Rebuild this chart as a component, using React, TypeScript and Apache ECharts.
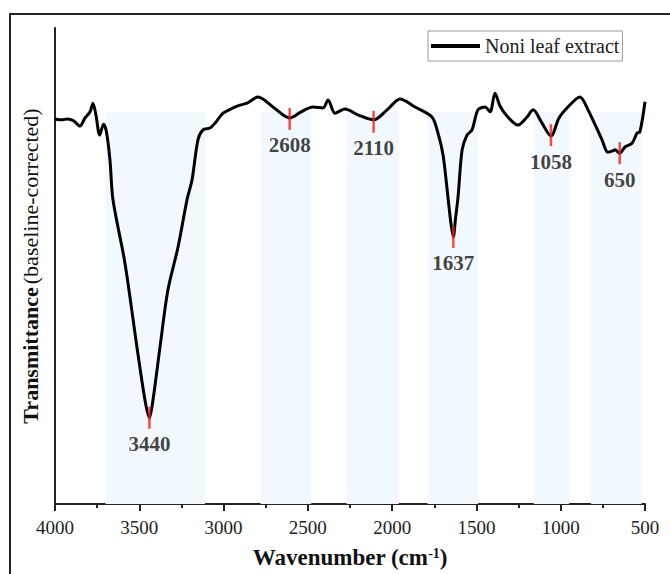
import React, { useEffect, useRef } from "react";
import * as echarts from "echarts";

const wavenumbers = [
  4000, 3960, 3925, 3890, 3852, 3822, 3792, 3775, 3757, 3735, 3712, 3695, 3674, 3656,
  3585, 3514, 3466, 3440, 3419, 3377, 3330, 3270, 3217, 3187, 3152, 3122, 3080, 3051,
  3003, 2944, 2903, 2861, 2796, 2700, 2608, 2540, 2470, 2410, 2380, 2339, 2280, 2200,
  2110, 2030, 1953, 1864, 1764, 1728, 1698, 1669, 1650, 1637, 1625, 1609, 1585, 1556,
  1526, 1491, 1449, 1419, 1390, 1360, 1319, 1253, 1200, 1164, 1111, 1058, 1010, 957,
  886, 838, 755, 720, 690, 678, 650, 619, 577, 547, 530, 500,
];
const transmittance = [
  80.9, 80.7, 80.9, 80.5, 79.4, 81.1, 82.4, 84.2, 81.7, 77.5, 79.8, 78.2, 72.3, 63.9,
  50.6, 33.0, 21.8, 18.1, 21.8, 33.0, 45.0, 54.0, 63.9, 68.1, 76.5, 78.6, 79.0, 80.0,
  82.1, 83.2, 83.8, 84.2, 85.5, 83.2, 81.1, 82.4, 83.4, 83.2, 84.9, 82.1, 83.0, 81.7,
  80.7, 82.8, 85.1, 83.4, 81.3, 77.9, 73.3, 64.5, 58.6, 56.1, 59.7, 64.5, 74.4, 77.5,
  78.6, 82.8, 83.4, 82.4, 86.3, 83.6, 81.5, 79.6, 81.3, 82.8, 80.0, 77.3, 81.1, 83.4,
  85.5, 82.8, 76.5, 73.9, 74.2, 74.4, 73.7, 75.0, 75.8, 77.9, 78.2, 84.5,
];

const peakWavenumbers = [3440, 2608, 2110, 1637, 1058, 650];
const peakTransmittance = [18.1, 80.9, 80.3, 56.1, 77.5, 73.7];

const bandStarts = [3700, 2780, 2270, 1790, 1160, 820];
const bandEnds = [3110, 2480, 1960, 1490, 950, 520];
const bandTop = 82.4;

const seriesName = "Noni leaf extract";
const FONT = "'Liberation Serif', 'Times New Roman', serif";

export default function App() {
  const ref = useRef<HTMLDivElement>(null);

  useEffect(() => {
    if (!ref.current) return;
    const chart = echarts.init(ref.current, undefined, { renderer: "svg" });
    const lineData = wavenumbers.map((w, i) => [w, transmittance[i]]);
    const peakData = peakWavenumbers.map((w, i) => [w, peakTransmittance[i]]);
    const areas = bandStarts.map((s, i) => [
      { xAxis: s, yAxis: 0 },
      { xAxis: bandEnds[i], yAxis: bandTop },
    ]);

    chart.setOption({
      animation: false,
      backgroundColor: "#ffffff",
      textStyle: { fontFamily: FONT },
      grid: { left: 55, right: 25, top: 28, bottom: 70 },
      legend: {
        data: [{ name: seriesName, icon: "rect" }],
        left: 428,
        top: 31,
        padding: [5, 3, 5, 3],
        borderColor: "#999",
        borderWidth: 1,
        itemWidth: 49,
        itemHeight: 4,
        itemStyle: { color: "#000", borderWidth: 0 },
        textStyle: { fontSize: 20, fontFamily: FONT, color: "#222", lineHeight: 19 },
      },
      graphic: [
        {
          type: "rect",
          shape: { x: 10, y: 14, width: 700, height: 600 },
          style: { fill: "none", stroke: "#222", lineWidth: 2 },
          silent: true,
          z: -10,
        },
      ],
      xAxis: {
        type: "value",
        min: 500,
        max: 4000,
        interval: 500,
        inverse: true,
        splitLine: { show: false },
        axisLine: { lineStyle: { color: "#222", width: 2 } },
        axisTick: { inside: false, length: 7, lineStyle: { color: "#222", width: 2 } },
        minorTick: { show: true, splitNumber: 2, length: 4, lineStyle: { color: "#222", width: 2 } },
        axisLabel: {
          fontSize: 19,
          fontFamily: FONT,
          color: "#222",
          margin: 14,
          formatter: (v: number) => String(v),
        },
        name: "{t|Wavenumber (cm}{s|-1}{t|)}",
        nameLocation: "middle",
        nameGap: 42,
        nameTextStyle: {
          fontFamily: FONT,
          rich: {
            t: { fontSize: 23, fontWeight: "bold", fontFamily: FONT, color: "#111" },
            s: { fontSize: 14, fontWeight: "bold", fontFamily: FONT, color: "#111", verticalAlign: "top" },
          },
        },
      },
      yAxis: {
        type: "value",
        min: 0,
        max: 100,
        splitLine: { show: false },
        axisLine: { show: true, lineStyle: { color: "#222", width: 2 } },
        axisTick: { show: false },
        axisLabel: { show: false },
        name: "{b|Transmittance} {r|(baseline-corrected)}",
        nameLocation: "middle",
        nameGap: 14,
        nameTextStyle: {
          fontFamily: FONT,
          rich: {
            b: { fontSize: 22, fontWeight: "bold", fontFamily: FONT, color: "#111" },
            r: { fontSize: 22, fontWeight: "normal", fontFamily: FONT, color: "#111" },
          },
        },
      },
      series: [
        {
          name: seriesName,
          type: "line",
          data: lineData,
          symbol: "none",
          smooth: 0.3,
          lineStyle: { color: "#000", width: 3 },
          itemStyle: { color: "#000" },
          z: 3,
          markArea: {
            silent: true,
            itemStyle: { color: "#f1f8fe" },
            data: areas,
          },
        },
        {
          name: "peaks",
          type: "scatter",
          data: peakData,
          symbol: "rect",
          symbolSize: [2.5, 22],
          itemStyle: { color: "#ff1a1a" },
          z: 4,
          label: {
            show: true,
            position: "bottom",
            distance: 5,
            formatter: (p: any) => String(p.value[0]),
            fontSize: 21,
            fontWeight: "bold",
            fontFamily: FONT,
            color: "#111",
          },
        },
      ],
    });

    return () => chart.dispose();
  }, []);

  return (
    <div
      ref={ref}
      style={{ position: "absolute", left: 0, top: 0, width: 670, height: 574 }}
    />
  );
}
